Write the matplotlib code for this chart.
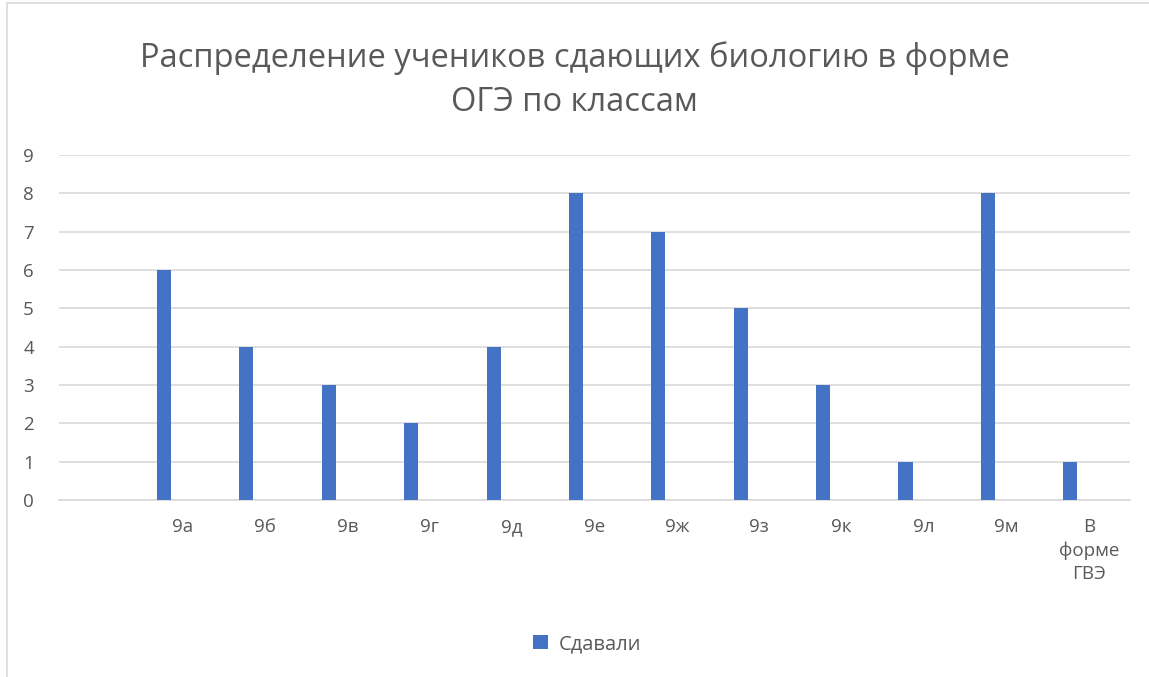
import matplotlib.pyplot as plt
from matplotlib.patches import Rectangle

classes = ["9а", "9б", "9в", "9г", "9д", "9е", "9ж", "9з", "9к", "9л", "9м", "В\nформе\nГВЭ"]
passed = [6, 4, 3, 2, 4, 8, 7, 5, 3, 1, 8, 1]
yticks = list(range(10))

title = "Распределение учеников сдающих биологию в форме\nОГЭ по классам"
text_color = "#595959"
bar_color = "#4472C4"
grid_color = "#d9d9d9"

plt.rcParams["font.family"] = ["Open Sans", "DejaVu Sans"]

fig = plt.figure(figsize=(11.49, 6.77), dpi=100)
ax = fig.add_axes([59 / 1149, 1 - 500 / 677, (1130 - 59) / 1149, 345 / 677])

x = list(range(len(classes)))
ax.bar([i - 0.225 for i in x], passed, width=0.17, color=bar_color, label="Сдавали", zorder=3)

ax.set_xlim(-1.5, len(classes) - 0.5)
ax.set_ylim(0, 9)
ax.set_yticks(yticks)
ax.set_yticklabels([str(v) for v in yticks])
ax.yaxis.grid(True, color=grid_color, linewidth=1.2, zorder=0)
ax.set_xticks(x)
ax.set_xticklabels(classes, linespacing=1.35, va="top")
ax.tick_params(axis="both", length=0, colors=text_color, labelsize=13.5)
ax.tick_params(axis="x", pad=13)
ax.tick_params(axis="y", pad=18)
for side in ("top", "right", "left"):
    ax.spines[side].set_visible(False)
ax.spines["bottom"].set_color(grid_color)
ax.spines["bottom"].set_linewidth(1.2)

fig.text(0.5, 1 - 80 / 677, title, ha="center", va="center", fontsize=23.5,
         color=text_color, linespacing=1.45)

fig.legend(loc="center", bbox_to_anchor=(587 / 1149, 1 - 644 / 677), frameon=False,
           fontsize=14.5, labelcolor=text_color, handlelength=0.75, handleheight=0.75,
           handletextpad=0.5)

fig.add_artist(Rectangle((7 / 1149, -0.01), 1.1, 1 - 3 / 677 + 0.01, transform=fig.transFigure,
                         fill=False, edgecolor=grid_color, linewidth=1.2))

fig.savefig("out.png", dpi=100)
